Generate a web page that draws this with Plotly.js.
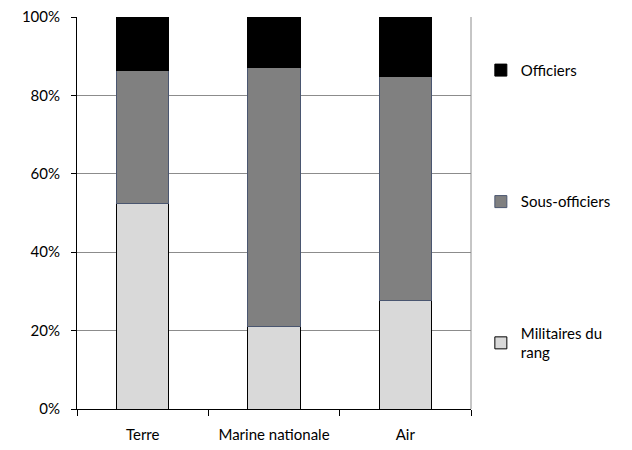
<!DOCTYPE html>
<html><head><meta charset="utf-8">
<script src="https://cdn.plot.ly/plotly-3.0.1.min.js"></script>
<style>body{margin:0;padding:0;}#chart{width:632px;height:450px;}</style>
</head><body><div id="chart"></div>
<script>
var categories = ["Terre", "Marine nationale", "Air"];
var militaires = [52.5, 21.0, 27.6];
var sousOfficiers = [33.8, 66.2, 57.1];
var officiers = [13.7, 12.8, 15.3];
var yTickVals = [0, 20, 40, 60, 80, 100];
var yTickText = ["0%", "20%", "40%", "60%", "80%", "100%"];

var traces = [
  {type:"bar", name:"Militaires du<br>rang", x:categories, y:militaires, legendgroup:"c", legendrank:3,
   marker:{color:"#d9d9d9", line:{color:"#000000", width:1}}},
  {type:"bar", name:"Sous-officiers", x:categories, y:sousOfficiers, legendgroup:"b", legendrank:2,
   marker:{color:"#808080", line:{color:"#4a5670", width:1}}},
  {type:"bar", name:"Officiers", x:categories, y:officiers, legendgroup:"a", legendrank:1,
   marker:{color:"#000000", line:{color:"#000000", width:1}}}
];
var layout = {
  width:632, height:450,
  margin:{l:77, r:161, t:17, b:41},
  barmode:"stack", bargap:0.6,
  paper_bgcolor:"#ffffff", plot_bgcolor:"#ffffff",
  font:{family:"Lato, 'Open Sans', sans-serif", size:15, color:"#000000"},
  showlegend:true,
  legend:{x:1.025, xanchor:"left", y:0.906, yanchor:"top", traceorder:"grouped",
          tracegroupgap:109, font:{size:15}, itemwidth:30},
  xaxis:{type:"category", showline:true, linecolor:"#000000", linewidth:1,
         ticks:"outside", tickson:"boundaries", ticklen:6, tickcolor:"#000000",
         showgrid:false, tickfont:{size:15}, ticklabelstandoff:12},
  yaxis:{range:[0,100], tickvals:yTickVals, ticktext:yTickText, showline:true,
         linecolor:"#000000", linewidth:1, ticks:"outside", ticklen:5, tickcolor:"#000000",
         showgrid:true, gridcolor:"#8c8c8c", gridwidth:1, zeroline:false, tickfont:{size:15},
         ticklabelstandoff:8},
  shapes:[{type:"line", xref:"paper", yref:"paper", x0:1, x1:1, y0:0, y1:1,
           line:{color:"#8c8c8c", width:1}}]
};
Plotly.newPlot("chart", traces, layout, {displayModeBar:false, staticPlot:true});
</script></body></html>
